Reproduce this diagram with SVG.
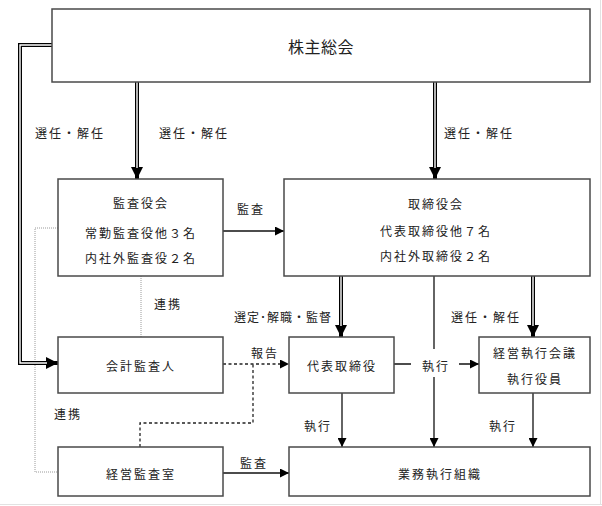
<svg xmlns="http://www.w3.org/2000/svg" width="602" height="506" viewBox="0 0 602 506">
<style>
.box{fill:#fff;stroke:#4a4a4a;stroke-width:1.5}
.t{font-family:"Noto Sans CJK JP","Noto Sans CJK SC",sans-serif;font-size:12px;fill:#222;text-anchor:middle;dominant-baseline:central;letter-spacing:2px}
.big{font-size:16px;letter-spacing:0.5px}
.dbl{fill:none;stroke:#000;stroke-width:4}
.dblw{fill:none;stroke:#fff;stroke-width:1.4}
.ln{fill:none;stroke:#111;stroke-width:1.3}
.dash{fill:none;stroke:#222;stroke-width:1.3;stroke-dasharray:3 2.5}
.dot{fill:none;stroke:#9a9a9a;stroke-width:1;stroke-dasharray:1 1}
</style>
<defs>
<marker id="a" markerUnits="userSpaceOnUse" markerWidth="9" markerHeight="9" refX="9" refY="4.5" orient="auto" viewBox="0 0 9 9"><path d="M0,0 L9,4.5 L0,9 z" fill="#000"/></marker>
<marker id="A" markerUnits="userSpaceOnUse" markerWidth="12" markerHeight="12" refX="12" refY="6" orient="auto" viewBox="0 0 12 12"><path d="M0,0 L12,6 L0,12 z" fill="#000"/></marker>
</defs>
<rect width="602" height="506" fill="#fff"/>
<line x1="600.5" y1="0" x2="600.5" y2="505" stroke="#e2e2e2"/>
<line x1="0" y1="504.5" x2="602" y2="504.5" stroke="#e2e2e2"/>

<g id="connectors">
  <path class="dot" d="M58,228 H35 V472 H58"/>
  <path class="dot" d="M141,276 V337"/>
  <path class="dbl" d="M137,82 V179" marker-end="url(#A)"/>
  <path class="dblw" d="M137,82 V168"/>
  <path class="dbl" d="M435,82 V179" marker-end="url(#A)"/>
  <path class="dblw" d="M435,82 V168"/>
  <path class="dbl" d="M52,45 H20 V363 H58" marker-end="url(#A)"/>
  <path class="dblw" d="M52,45 H20 V363 H47"/>
  <path class="dbl" d="M341,276 V337" marker-end="url(#A)"/>
  <path class="dblw" d="M341,276 V326"/>
  <path class="dbl" d="M533,276 V337" marker-end="url(#A)"/>
  <path class="dblw" d="M533,276 V326"/>
  <path class="ln" d="M223,231 H284" marker-end="url(#a)"/>
  <path class="ln" d="M434,276 V447" marker-end="url(#a)"/>
  <path class="ln" d="M394,364 H479" marker-end="url(#a)"/>
  <path class="ln" d="M342,393 V447" marker-end="url(#a)"/>
  <path class="ln" d="M533,393 V447" marker-end="url(#a)"/>
  <path class="ln" d="M223,473 H289" marker-end="url(#a)"/>
  <path class="dash" d="M223,364 H289" marker-end="url(#a)"/>
  <path class="dash" d="M140,447 V423 H253 V364"/>
  <rect x="411" y="349" width="48" height="28" fill="#fff"/>
  <text class="t" x="70" y="132">選任・解任</text>
  <text class="t" x="194" y="132">選任・解任</text>
  <text class="t" x="479" y="132">選任・解任</text>
  <text class="t" x="251" y="208">監査</text>
  <text class="t" x="168" y="303">連携</text>
  <text class="t" x="283" y="316" style="letter-spacing:1px">選定･解職・監督</text>
  <text class="t" x="486" y="316">選任・解任</text>
  <text class="t" x="265" y="352">報告</text>
  <text class="t" x="436" y="365">執行</text>
  <text class="t" x="68" y="413">連携</text>
  <text class="t" x="318" y="425">執行</text>
  <text class="t" x="503" y="425">執行</text>
  <text class="t" x="254" y="462">監査</text>
</g>

<g id="n-shareholders">
  <rect class="box" x="52" y="9" width="538" height="73"/>
  <text class="t big" x="321" y="46">株主総会</text>
</g>
<g id="n-auditboard">
  <rect class="box" x="58" y="179" width="165" height="97"/>
  <text class="t" x="141" y="202">監査役会</text>
  <text class="t" x="141" y="232">常勤監査役他３名</text>
  <text class="t" x="141" y="257">内社外監査役２名</text>
</g>
<g id="n-board">
  <rect class="box" x="284" y="179" width="306" height="97"/>
  <text class="t" x="436" y="203">取締役会</text>
  <text class="t" x="436" y="230">代表取締役他７名</text>
  <text class="t" x="436" y="255">内社外取締役２名</text>
</g>
<g id="n-accountant">
  <rect class="box" x="58" y="337" width="165" height="56"/>
  <text class="t" x="141" y="365">会計監査人</text>
</g>
<g id="n-ceo">
  <rect class="box" x="289" y="337" width="105" height="56"/>
  <text class="t" x="342" y="365">代表取締役</text>
</g>
<g id="n-execmeeting">
  <rect class="box" x="479" y="337" width="111" height="56"/>
  <text class="t" x="535" y="352">経営執行会議</text>
  <text class="t" x="535" y="378">執行役員</text>
</g>
<g id="n-internalaudit">
  <rect class="box" x="58" y="447" width="165" height="49"/>
  <text class="t" x="141" y="473">経営監査室</text>
</g>
<g id="n-operations">
  <rect class="box" x="289" y="447" width="301" height="49"/>
  <text class="t" x="440" y="473">業務執行組織</text>
</g>
</svg>
